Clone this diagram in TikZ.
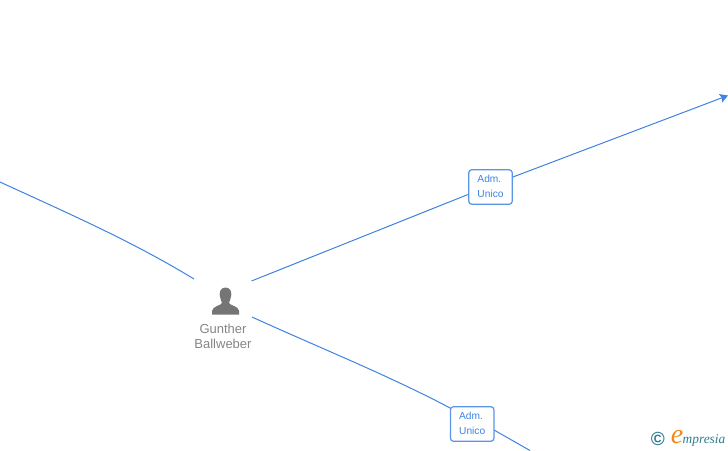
\documentclass[tikz,border=0pt]{standalone}
\usepackage{fontspec}
\setmainfont{Liberation Sans}
\newfontfamily\logofont{Liberation Serif}
\usetikzlibrary{arrows.meta,backgrounds,calc}
\definecolor{linkblue}{HTML}{3F82E2}
\definecolor{boxblue}{HTML}{5A94E8}
\definecolor{persongray}{HTML}{757575}
\definecolor{labelgray}{HTML}{858585}
\definecolor{logoteal}{HTML}{2F7D8F}
\definecolor{logoorange}{HTML}{F08A1C}
\tikzset{
  link/.style={draw=linkblue,line width=1pt},
  rolebox/.style={draw=boxblue,line width=1.2pt,fill=white,rounded corners=3pt,minimum width=43.5pt,minimum height=34.5pt,inner sep=0pt,text=linkblue,font=\fontsize{10.2}{15}\selectfont},
  personlabel/.style={text=labelgray,align=center,inner sep=0pt,font=\fontsize{13}{15.5}\selectfont},
}
\begin{document}
\begin{tikzpicture}[x=1pt,y=-1pt]
\useasboundingbox (0,0) rectangle (728,450);
% role boxes
\node[rolebox] (roleA) at (490.5,187) {\raisebox{-0.8pt}{\begin{tabular}{@{}l@{}}Adm.\\[-0.4pt]Unico\end{tabular}}\hspace{5pt}};
\node[rolebox] (roleB) at (472.2,424) {\raisebox{-0.8pt}{\begin{tabular}{@{}l@{}}Adm.\\[-0.4pt]Unico\end{tabular}}\hspace{5pt}};
% free ends
\coordinate (leftEnd) at (0,182);
\coordinate (personNW) at (194,279);
\coordinate (personNE) at (251.5,281);
\coordinate (personSE) at (252,317);
\coordinate (topEnd) at (728,95.5);
\coordinate (botEnd) at (530,450.5);
\coordinate (roleBin) at (452,409);
\coordinate (roleBout) at (494,430);
% connectors
\begin{scope}[on background layer]
\draw[link] (leftEnd) .. controls (65,212) and (130,240) .. (personNW);
\draw[link] (personNE) -- ($(roleA)+(0,-1.5)$);
\draw[link,-{Stealth[length=8pt,width=9pt,inset=1.5pt]}] ($(roleA)+(0,-1.5)$) -- (topEnd);
\draw[link] (personSE) .. controls (320,348) and (390,376) .. (roleBin);
\draw[link] (roleBout) -- (botEnd);
\end{scope}
% person icon
\fill[persongray] (225.5,287.5) .. controls (229.5,287.5) and (231.8,291) .. (231.3,295)
  .. controls (231,298.5) and (229.6,301) .. (229,303)
  .. controls (230,305.5) and (238.5,306) .. (239.2,311)
  -- (239.2,314.5) -- (212,314.5) -- (212,311)
  .. controls (212.8,306) and (221,305.5) .. (222,303)
  .. controls (221.4,301) and (220,298.5) .. (219.7,295)
  .. controls (219.2,291) and (221.5,287.5) .. (225.5,287.5) -- cycle;
\node[personlabel] (person) at (223,336.5) {Gunther\\Ballweber};
% logo
\node[text=logoteal,inner sep=0pt,font=\bfseries\fontsize{19}{19}\selectfont] (copy) at (657.8,439) {©};
\node[text=logoorange,inner sep=0pt,font=\logofont\itshape\fontsize{28}{28}\selectfont] (logoE) at (677,437.5) {e};
\node[text=logoteal,inner sep=0pt,anchor=base west,font=\logofont\itshape\fontsize{13.4}{13.4}\selectfont] (logoT) at (682.5,443) {mpresia};
\end{tikzpicture}
\end{document}
